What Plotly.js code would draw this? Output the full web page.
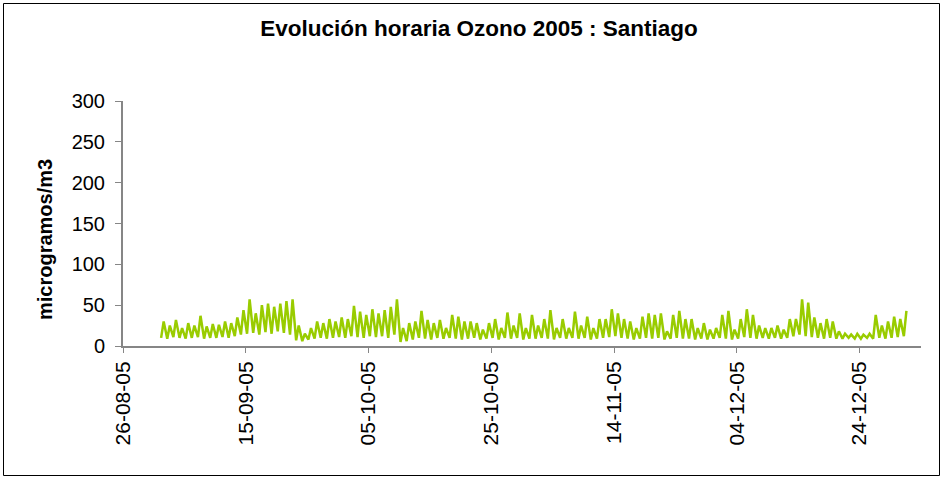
<!DOCTYPE html>
<html>
<head>
<meta charset="utf-8">
<script src="https://cdn.plot.ly/plotly-3.0.1.min.js"></script>
<style>
html,body{margin:0;padding:0;background:#fff;}
#chart{width:943px;height:479px;}
</style>
</head>
<body>
<div id="chart"></div>
<script>
// Daily series from 1 Sep 2005 to 31 Dec 2005 (µg/m3)
const startDate = '2005-09-01';
const dailyMax = [
  30,25,32,22,28,25,37,24,27,26,30,28,35,44,57,40,50,52,48,52,55,57,25,15,22,30,28,33,30,35,
  33,49,42,38,45,40,44,48,57,22,28,30,43,32,28,32,22,38,36,30,30,28,20,28,33,22,41,25,40,22,38,
  25,33,44,22,33,22,42,25,36,22,33,33,45,40,33,30,22,36,40,38,40,18,38,43,33,33,22,28,20,22,
  38,43,20,33,45,38,25,22,22,25,20,33,33,57,53,35,28,33,30,18,15,14,15,14,15,38,25,30,36,33,43
];
const dailyMin = [
  10,9,11,10,9,10,11,9,10,10,11,10,12,14,15,16,14,17,15,18,16,14,7,6,8,9,10,9,10,11,
  10,12,11,10,12,11,12,10,14,5,6,8,10,9,8,10,9,10,9,8,9,10,8,9,10,8,10,9,10,8,9,
  9,10,9,8,10,9,10,9,10,8,9,10,11,12,10,9,8,9,10,9,10,8,9,10,9,9,8,9,8,9,
  10,9,8,9,11,10,9,10,9,10,9,10,12,14,12,11,10,9,10,9,9,10,9,9,10,9,10,9,10,11,12
];
const minHour = '05:00';
const maxHour = '15:00';
const tickDates = ['2005-08-26','2005-09-15','2005-10-05','2005-10-25','2005-11-14','2005-12-04','2005-12-24'];
const tickLabels = ['26-08-05','15-09-05','05-10-05','25-10-05','14-11-05','04-12-05','24-12-05'];
const xRange = ['2005-08-26','2006-01-03'];
const yTicks = [0,50,100,150,200,250,300];

function dayString(i){
  const d = new Date(startDate + 'T00:00:00Z');
  d.setUTCDate(d.getUTCDate() + i);
  return d.toISOString().slice(0,10);
}
const xs = [], ys = [];
for (let i = 0; i < dailyMax.length; i++) {
  const ds = dayString(i);
  xs.push(ds + ' ' + minHour); ys.push(dailyMin[i]);
  xs.push(ds + ' ' + maxHour); ys.push(dailyMax[i]);
}

const FONT = '"Liberation Sans", Arial, Helvetica, sans-serif';
const trace = {
  x: xs, y: ys, type: 'scatter', mode: 'lines',
  line: {color: 'rgb(153,204,0)', width: 2.5},
  hoverinfo: 'skip'
};
const L = 123, R = 921, T = 101, B = 346, W = 943, H = 479;
const pw = R - L, ph = B - T;
const layout = {
  width: W, height: H,
  margin: {l: L, r: W - R, t: T, b: H - B, pad: 0},
  paper_bgcolor: '#fff', plot_bgcolor: '#fff',
  showlegend: false,
  font: {family: FONT, color: '#000'},
  title: {
    text: '<b>Evolución horaria Ozono 2005 : Santiago</b>',
    font: {family: FONT, size: 22.5, color: '#000'},
    x: 479 / W, xanchor: 'center', xref: 'container',
    y: 1 - 28 / H, yanchor: 'middle', yref: 'container'
  },
  xaxis: {
    type: 'date', range: xRange, tickmode: 'array',
    tickvals: tickDates, ticktext: tickLabels, tickangle: -90,
    tickfont: {family: FONT, size: 21, color: '#000'},
    ticks: 'outside', ticklen: 5, tickcolor: '#868686', tickwidth: 1,
    showline: true, linecolor: '#868686', linewidth: 2,
    showgrid: false, zeroline: false, fixedrange: true
  },
  yaxis: {
    range: [0, 300], tickmode: 'array', tickvals: yTicks,
    tickfont: {family: FONT, size: 20, color: '#000'},
    ticks: 'outside', ticklen: 6, tickcolor: '#868686', tickwidth: 1,
    ticklabelstandoff: 6,
    showline: true, linecolor: '#868686', linewidth: 2,
    showgrid: false, zeroline: false, fixedrange: true
  },
  annotations: [{
    text: '<b>microgramos/m3</b>', textangle: -90,
    xref: 'paper', yref: 'paper',
    x: (45 - L) / pw, y: (B - 240) / ph,
    xanchor: 'center', yanchor: 'middle', showarrow: false,
    font: {family: FONT, size: 20, color: '#000'}
  }],
  shapes: [{
    type: 'rect', xref: 'paper', yref: 'paper',
    x0: (3.5 - L) / pw, x1: (939.5 - L) / pw,
    y0: (B - 475.5) / ph, y1: (B - 3.5) / ph,
    line: {color: '#000', width: 1}, fillcolor: 'rgba(0,0,0,0)', layer: 'below'
  }]
};
Plotly.newPlot('chart', [trace], layout, {staticPlot: true, displayModeBar: false});
</script>
</body>
</html>
